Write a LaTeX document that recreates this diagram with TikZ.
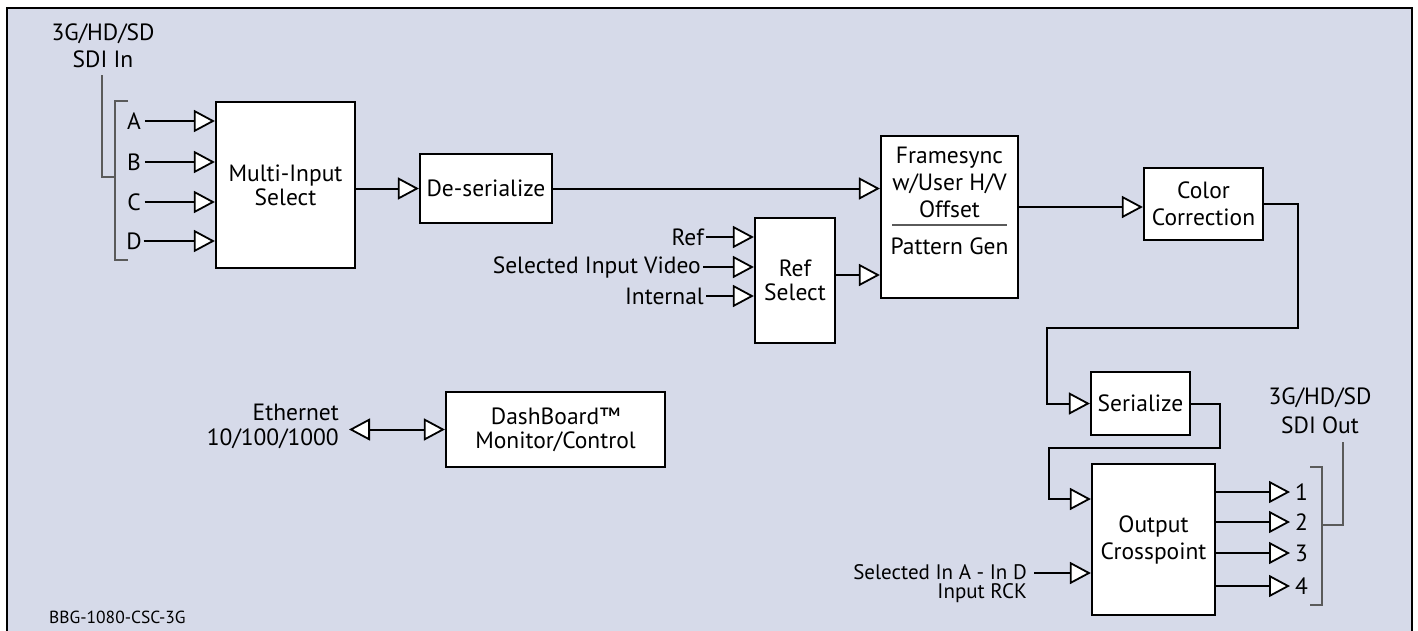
\documentclass[tikz,border=0pt]{standalone}
\usepackage{fontspec}
\setmainfont{PT Sans}
\usetikzlibrary{arrows.meta}
\definecolor{bg}{RGB}{214,218,233}
\definecolor{gl}{RGB}{90,90,90}
\begin{document}
\begin{tikzpicture}[x=1pt,y=-1pt,
  box/.style={draw=black, line width=2.2pt, fill=white, inner sep=0pt, align=center, font=\fontsize{23.5}{24}\selectfont},
  lbl/.style={inner sep=2pt, font=\fontsize{23.5}{24}\selectfont},
  lbls/.style={inner sep=2pt, font=\fontsize{21}{19}\selectfont},
  conn/.style={line width=2pt, -{Triangle[length=21pt,width=22pt,fill=white,line width=1.8pt]}},
  brk/.style={gl, line width=1.3pt},
]
\useasboundingbox (0,0) rectangle (1418,630);
% frame
\fill[bg] (7,8) rectangle (1412,640);
\draw[line width=2.5pt] (7,640) -- (7,8) -- (1412,8) -- (1412,640);

% boxes
\node[box, minimum width=139pt, minimum height=166pt] (msel) at (285.5,185) {Multi-Input\\Select};
\node[box, minimum width=132pt, minimum height=69pt] (deser) at (486,188.5) {De-serialize};
\node[box, minimum width=80pt, minimum height=125pt] (refsel) at (795,280.5) {Ref\\Select};
\node[box, minimum width=137pt, minimum height=162pt] (fsync) at (949.5,217) {};
\node[box, minimum width=119pt, minimum height=72pt, font=\fontsize{23.5}{27}\selectfont] (cc) at (1203.5,204) {Color\\Correction};
\node[box, minimum width=99pt, minimum height=63pt] (ser) at (1140.5,403.5) {Serialize};
\node[box, minimum width=123pt, minimum height=151pt, font=\fontsize{23.5}{27}\selectfont] (ocp) at (1153.5,539.5) {Output\\Crosspoint};
\node[box, minimum width=219pt, minimum height=75pt] (dash) at (555.5,429.5) {DashBoard™\\Monitor/Control};

% framesync text
\node[align=center, inner sep=0pt, font=\fontsize{23.5}{27}\selectfont] (fst) at (949.5,182) {Framesync\\w/User H/V\\Offset};
\node[inner sep=0pt, font=\fontsize{23.5}{24}\selectfont] (pg) at (949.5,246) {Pattern Gen};
\draw[gl, line width=1.2pt] (892,225) -- (1007,225);

% SDI in
\node[lbl, align=center, font=\fontsize{23.5}{27}\selectfont] (sdiin) at (103,46) {3G/HD/SD\\SDI In};
\draw[brk] (128,101) -- (115,101) -- (115,260) -- (128,260);
\draw[brk] (115,177) -- (102,177) -- (102,75);
\node[lbl, outer sep=2pt] (inA) at (134,121) {A};
\node[lbl, outer sep=2pt] (inB) at (134,162) {B};
\node[lbl, outer sep=2pt] (inC) at (134,202) {C};
\node[lbl, outer sep=0pt] (inD) at (134,241) {D};
\foreach \n in {inA,inB,inC,inD}
  \draw[conn] (\n.east) -- (\n.east -| msel.west);

\draw[conn] (msel.east |- deser.west) -- (deser.west);
\draw[conn] (deser.east) -- (deser.east -| fsync.west);

% ref select
\node[lbl, anchor=east] (lref) at (706,237) {Ref};
\node[lbl, anchor=east] (lsiv) at (703,267) {Selected Input Video};
\node[lbl, anchor=east] (lint) at (706,296) {Internal};
\foreach \n in {lref,lsiv,lint}
  \draw[conn] (\n.east) -- (\n.east -| refsel.west);
\coordinate (fsin2) at (881,275);
\draw[conn] (refsel.east |- fsin2) -- (fsync.west |- fsin2);

% fsync -> cc
\coordinate (ccin) at (1144,207);
\draw[conn] (fsync.east |- ccin) -- (cc.west |- ccin);

% cc -> serialize
\coordinate (c1) at (1298,328);
\coordinate (c2) at (1047,328);
\draw[conn] (cc.east) -| (c1) -- (c2) |- (ser.west);

% serialize -> output crosspoint
\coordinate (d1) at (1220,448);
\coordinate (d2) at (1049,448);
\coordinate (oc1) at (1092,499);
\draw[conn] (ser.east) -| (d1) -- (d2) |- (ocp.west |- oc1);

% selected in
\node[lbls, align=right, anchor=north east] (selin) at (1029,562) {Selected In A - In D\\Input RCK};
\coordinate (selp) at (1034,573);
\draw[conn] (selp) -- (selp -| ocp.west);

% outputs
\node[lbl, anchor=west, inner sep=0pt, outer sep=5pt] (o1) at (1290,492) {1};
\node[lbl, anchor=west, inner sep=0pt, outer sep=5pt] (o2) at (1290,522) {2};
\node[lbl, anchor=west, inner sep=0pt, outer sep=5pt] (o3) at (1290,553) {3};
\node[lbl, anchor=west, inner sep=0pt, outer sep=5pt] (o4) at (1290,586) {4};
\foreach \n in {o1,o2,o3,o4}
  \draw[conn] (ocp.east |- \n.west) -- (\n.west);
\draw[brk] (1310,467) -- (1322,467) -- (1322,605) -- (1310,605);
\draw[brk] (1322,525) -- (1343,525) -- (1343,442);
\node[lbl, align=center, font=\fontsize{23.5}{29}\selectfont] (sdiout) at (1320,411) {3G/HD/SD\\SDI Out};

% ethernet
\node[lbl, align=right, anchor=east, font=\fontsize{23.5}{25}\selectfont] (eth) at (341,426) {Ethernet\\10/100/1000};
\coordinate (ethp) at (349,429.5);
\draw[line width=2pt, {Triangle[length=21pt,width=22pt,fill=white,line width=1.8pt]}-{Triangle[length=21pt,width=22pt,fill=white,line width=1.8pt]}] (ethp) -- (dash.west);

% figure id
\node[inner sep=0pt, anchor=west, font=\fontsize{17.5}{18}\selectfont] (bbg) at (49,617) {BBG-1080-CSC-3G};
\end{tikzpicture}
\end{document}
